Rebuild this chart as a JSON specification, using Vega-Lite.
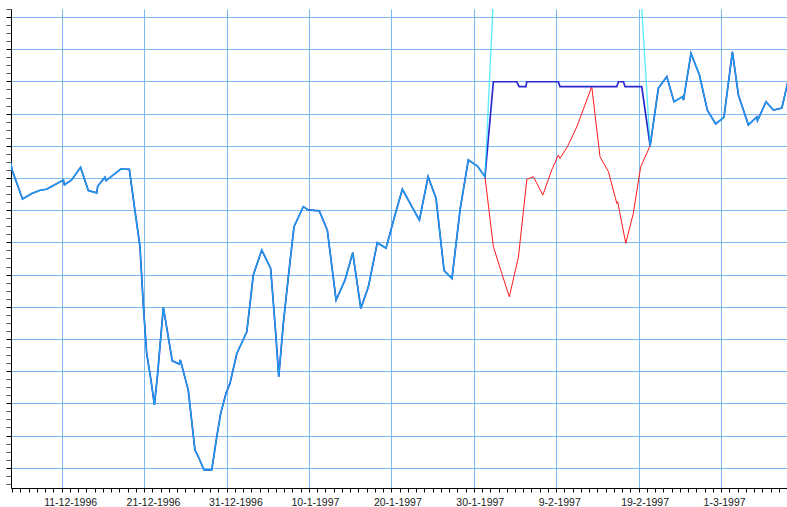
{
  "$schema": "https://vega.github.io/schema/vega-lite/v6.json",
  "width": 776,
  "height": 479,
  "autosize": {"type": "none"},
  "padding": {"left": 11, "top": 9, "right": 0, "bottom": 19},
  "background": "white",
  "view": {"stroke": null},
  "data": {
    "values": [
      {"t": "1996-12-04T19:00:00", "v": 9.50, "s": "all"},
      {"t": "1996-12-05T00:00:00", "v": 9.23, "s": "all"},
      {"t": "1996-12-06T06:00:00", "v": 8.35, "s": "all"},
      {"t": "1996-12-07T09:00:00", "v": 8.52, "s": "all"},
      {"t": "1996-12-08T09:00:00", "v": 8.62, "s": "all"},
      {"t": "1996-12-09T04:00:00", "v": 8.65, "s": "all"},
      {"t": "1996-12-11T05:00:00", "v": 8.94, "s": "all"},
      {"t": "1996-12-11T08:00:00", "v": 8.79, "s": "all"},
      {"t": "1996-12-12T05:00:00", "v": 8.94, "s": "all"},
      {"t": "1996-12-13T07:00:00", "v": 9.33, "s": "all"},
      {"t": "1996-12-14T05:30:00", "v": 8.61, "s": "all"},
      {"t": "1996-12-15T06:00:00", "v": 8.54, "s": "all"},
      {"t": "1996-12-15T09:00:00", "v": 8.75, "s": "all"},
      {"t": "1996-12-16T06:00:00", "v": 9.02, "s": "all"},
      {"t": "1996-12-16T09:00:00", "v": 8.92, "s": "all"},
      {"t": "1996-12-18T04:00:00", "v": 9.28, "s": "all"},
      {"t": "1996-12-19T05:00:00", "v": 9.27, "s": "all"},
      {"t": "1996-12-19T21:00:00", "v": 8.01, "s": "all"},
      {"t": "1996-12-20T12:00:00", "v": 6.87, "s": "all"},
      {"t": "1996-12-20T22:00:00", "v": 5.00, "s": "all"},
      {"t": "1996-12-21T07:30:00", "v": 3.55, "s": "all"},
      {"t": "1996-12-21T20:00:00", "v": 2.72, "s": "all"},
      {"t": "1996-12-22T06:00:00", "v": 1.95, "s": "all"},
      {"t": "1996-12-22T15:30:00", "v": 2.93, "s": "all"},
      {"t": "1996-12-23T08:00:00", "v": 4.98, "s": "all"},
      {"t": "1996-12-24T10:00:00", "v": 3.32, "s": "all"},
      {"t": "1996-12-25T06:30:00", "v": 3.22, "s": "all"},
      {"t": "1996-12-25T09:30:00", "v": 3.35, "s": "all"},
      {"t": "1996-12-26T08:30:00", "v": 2.41, "s": "all"},
      {"t": "1996-12-27T04:00:00", "v": 0.55, "s": "all"},
      {"t": "1996-12-27T14:00:00", "v": 0.34, "s": "all"},
      {"t": "1996-12-28T06:30:00", "v": -0.07, "s": "all"},
      {"t": "1996-12-29T05:00:00", "v": -0.07, "s": "all"},
      {"t": "1996-12-29T19:30:00", "v": 0.96, "s": "all"},
      {"t": "1996-12-30T07:00:00", "v": 1.69, "s": "all"},
      {"t": "1996-12-30T22:30:00", "v": 2.31, "s": "all"},
      {"t": "1996-12-31T10:00:00", "v": 2.62, "s": "all"},
      {"t": "1997-01-01T06:00:00", "v": 3.55, "s": "all"},
      {"t": "1997-01-02T11:00:00", "v": 4.22, "s": "all"},
      {"t": "1997-01-03T06:00:00", "v": 5.99, "s": "all"},
      {"t": "1997-01-04T06:30:00", "v": 6.76, "s": "all"},
      {"t": "1997-01-05T08:30:00", "v": 6.19, "s": "all"},
      {"t": "1997-01-06T00:00:00", "v": 4.07, "s": "all"},
      {"t": "1997-01-06T08:00:00", "v": 2.83, "s": "all"},
      {"t": "1997-01-06T21:30:00", "v": 4.49, "s": "all"},
      {"t": "1997-01-07T12:00:00", "v": 5.93, "s": "all"},
      {"t": "1997-01-08T04:30:00", "v": 7.49, "s": "all"},
      {"t": "1997-01-09T07:30:00", "v": 8.11, "s": "all"},
      {"t": "1997-01-09T22:00:00", "v": 8.01, "s": "all"},
      {"t": "1997-01-11T06:00:00", "v": 7.98, "s": "all"},
      {"t": "1997-01-12T05:30:00", "v": 7.38, "s": "all"},
      {"t": "1997-01-13T07:00:00", "v": 5.21, "s": "all"},
      {"t": "1997-01-14T09:00:00", "v": 5.83, "s": "all"},
      {"t": "1997-01-15T07:30:00", "v": 6.68, "s": "all"},
      {"t": "1997-01-16T07:00:00", "v": 4.95, "s": "all"},
      {"t": "1997-01-17T05:00:00", "v": 5.62, "s": "all"},
      {"t": "1997-01-18T07:00:00", "v": 6.99, "s": "all"},
      {"t": "1997-01-19T08:30:00", "v": 6.82, "s": "all"},
      {"t": "1997-01-20T10:30:00", "v": 7.85, "s": "all"},
      {"t": "1997-01-21T08:00:00", "v": 8.65, "s": "all"},
      {"t": "1997-01-23T09:30:00", "v": 7.69, "s": "all"},
      {"t": "1997-01-24T11:00:00", "v": 9.04, "s": "all"},
      {"t": "1997-01-25T10:00:00", "v": 8.37, "s": "all"},
      {"t": "1997-01-26T09:30:00", "v": 6.12, "s": "all"},
      {"t": "1997-01-27T08:30:00", "v": 5.88, "s": "all"},
      {"t": "1997-01-28T08:00:00", "v": 8.01, "s": "all"},
      {"t": "1997-01-29T08:00:00", "v": 9.56, "s": "all"},
      {"t": "1997-01-30T10:30:00", "v": 9.37, "s": "all"},
      {"t": "1997-01-31T08:30:00", "v": 9.04, "s": "all"},
      {"t": "1997-02-01T09:00:00", "v": 6.87, "s": "red"},
      {"t": "1997-02-02T09:30:00", "v": 6.04, "s": "red"},
      {"t": "1997-02-03T07:30:00", "v": 5.31, "s": "red"},
      {"t": "1997-02-04T10:00:00", "v": 6.55, "s": "red"},
      {"t": "1997-02-05T10:30:00", "v": 8.96, "s": "red"},
      {"t": "1997-02-06T05:30:00", "v": 9.04, "s": "red"},
      {"t": "1997-02-07T09:00:00", "v": 8.47, "s": "red"},
      {"t": "1997-02-08T11:00:00", "v": 9.25, "s": "red"},
      {"t": "1997-02-09T06:00:00", "v": 9.71, "s": "red"},
      {"t": "1997-02-09T11:00:00", "v": 9.61, "s": "red"},
      {"t": "1997-02-10T08:30:00", "v": 9.97, "s": "red"},
      {"t": "1997-02-11T12:00:00", "v": 10.59, "s": "red"},
      {"t": "1997-02-13T07:30:00", "v": 11.84, "s": "red"},
      {"t": "1997-02-14T07:30:00", "v": 9.66, "s": "red"},
      {"t": "1997-02-15T08:00:00", "v": 9.20, "s": "red"},
      {"t": "1997-02-16T08:30:00", "v": 8.21, "s": "red"},
      {"t": "1997-02-16T11:00:00", "v": 8.26, "s": "red"},
      {"t": "1997-02-17T10:30:00", "v": 6.97, "s": "red"},
      {"t": "1997-02-18T08:30:00", "v": 7.90, "s": "red"},
      {"t": "1997-02-19T06:00:00", "v": 9.35, "s": "red"},
      {"t": "1997-02-01T09:00:00", "v": 11.99, "s": "blue"},
      {"t": "1997-02-04T05:00:00", "v": 11.99, "s": "blue"},
      {"t": "1997-02-04T12:00:00", "v": 11.84, "s": "blue"},
      {"t": "1997-02-05T08:00:00", "v": 11.84, "s": "blue"},
      {"t": "1997-02-05T10:00:00", "v": 11.99, "s": "blue"},
      {"t": "1997-02-09T06:00:00", "v": 11.99, "s": "blue"},
      {"t": "1997-02-09T11:00:00", "v": 11.84, "s": "blue"},
      {"t": "1997-02-16T08:30:00", "v": 11.84, "s": "blue"},
      {"t": "1997-02-16T13:00:00", "v": 11.99, "s": "blue"},
      {"t": "1997-02-17T03:30:00", "v": 11.99, "s": "blue"},
      {"t": "1997-02-17T08:30:00", "v": 11.84, "s": "blue"},
      {"t": "1997-02-19T09:00:00", "v": 11.84, "s": "blue"},
      {"t": "1997-02-01T09:00:00", "v": 14.62, "s": "cyan"},
      {"t": "1997-02-09T09:00:00", "v": 15.50, "s": "cyan"},
      {"t": "1997-02-19T07:00:00", "v": 14.62, "s": "cyan"},
      {"t": "1997-02-20T09:30:00", "v": 10.00, "s": "all"},
      {"t": "1997-02-21T09:30:00", "v": 11.79, "s": "all"},
      {"t": "1997-02-22T10:00:00", "v": 12.15, "s": "all"},
      {"t": "1997-02-23T07:00:00", "v": 11.37, "s": "all"},
      {"t": "1997-02-24T08:30:00", "v": 11.53, "s": "all"},
      {"t": "1997-02-24T10:30:00", "v": 11.42, "s": "all"},
      {"t": "1997-02-25T08:30:00", "v": 12.87, "s": "all"},
      {"t": "1997-02-26T09:00:00", "v": 12.20, "s": "all"},
      {"t": "1997-02-27T08:00:00", "v": 11.11, "s": "all"},
      {"t": "1997-02-28T08:30:00", "v": 10.68, "s": "all"},
      {"t": "1997-03-01T08:30:00", "v": 10.89, "s": "all"},
      {"t": "1997-03-02T09:00:00", "v": 12.92, "s": "all"},
      {"t": "1997-03-03T02:30:00", "v": 11.58, "s": "all"},
      {"t": "1997-03-04T07:30:00", "v": 10.65, "s": "all"},
      {"t": "1997-03-05T08:00:00", "v": 10.90, "s": "all"},
      {"t": "1997-03-05T10:00:00", "v": 10.78, "s": "all"},
      {"t": "1997-03-06T11:00:00", "v": 11.37, "s": "all"},
      {"t": "1997-03-07T08:30:00", "v": 11.11, "s": "all"},
      {"t": "1997-03-08T09:00:00", "v": 11.17, "s": "all"},
      {"t": "1997-03-09T09:00:00", "v": 12.29, "s": "all"}
    ]
  },
  "encoding": {
    "x": {
      "field": "t",
      "type": "temporal",
      "title": null,
      "scale": {
        "domain": [
          {"year": 1996, "month": 12, "date": 4, "hours": 20, "minutes": 24},
          {"year": 1997, "month": 3, "date": 9, "hours": 0, "minutes": 0}
        ],
        "nice": false
      },
      "axis": {
        "tickCount": {"interval": "day", "step": 1},
        "labelExpr": "round((datum.value - datetime(1996, 11, 11)) / 86400000) % 10 === 0 ? timeFormat(datum.value, '%-d-%-m-%Y') : ''",
        "labelOverlap": false,
        "labelFont": "Liberation Sans",
        "labelFontSize": 10.5,
        "labelColor": "#1a1a1a",
        "labelAlign": "left",
        "labelOffset": -18,
        "labelPadding": 5,
        "labelFlush": false,
        "domainColor": "#000000",
        "domainWidth": 1,
        "tickColor": "#000000",
        "tickSize": 4,
        "tickWidth": 1,
        "grid": true,
        "gridColor": "#7db9f3",
        "gridWidth": 1,
        "gridOpacity": {
          "condition": {"test": "round((datum.value - datetime(1996, 11, 11)) / 86400000) % 10 === 0", "value": 1},
          "value": 0
        }
      }
    },
    "y": {
      "field": "v",
      "type": "quantitative",
      "title": null,
      "scale": {"domain": [-0.63, 14.25], "nice": false, "zero": false},
      "axis": {
        "values": [-0.5, -0.25, 0, 0.25, 0.5, 0.75, 1, 1.25, 1.5, 1.75, 2, 2.25, 2.5, 2.75, 3, 3.25, 3.5, 3.75, 4, 4.25, 4.5, 4.75, 5, 5.25, 5.5, 5.75, 6, 6.25, 6.5, 6.75, 7, 7.25, 7.5, 7.75, 8, 8.25, 8.5, 8.75, 9, 9.25, 9.5, 9.75, 10, 10.25, 10.5, 10.75, 11, 11.25, 11.5, 11.75, 12, 12.25, 12.5, 12.75, 13, 13.25, 13.5, 13.75, 14, 14.25],
        "labels": false,
        "domainColor": "#000000",
        "domainWidth": 1,
        "tickSize": 5,
        "tickWidth": 1,
        "tickColor": {
          "condition": {"test": "datum.value % 1 === 0", "value": "#000000"},
          "value": "#555555"
        },
        "grid": true,
        "gridColor": "#7db9f3",
        "gridWidth": 1,
        "gridOpacity": {
          "condition": {"test": "datum.value % 1 === 0", "value": 1},
          "value": 0
        }
      }
    }
  },
  "layer": [
    {
      "transform": [{"filter": "datum.s === 'all' || datum.s === 'red'"}],
      "mark": {"type": "line", "color": "#ff1a1a", "strokeWidth": 1, "clip": true}
    },
    {
      "transform": [{"filter": "datum.s === 'all' || datum.s === 'blue'"}],
      "mark": {"type": "line", "color": "#2a2ad0", "strokeWidth": 1.7, "clip": true}
    },
    {
      "transform": [{"filter": "datum.s === 'all' || datum.s === 'cyan'"}],
      "mark": {"type": "line", "color": "#10e0ff", "strokeWidth": 1.4, "opacity": 0.65, "clip": true}
    }
  ]
}
